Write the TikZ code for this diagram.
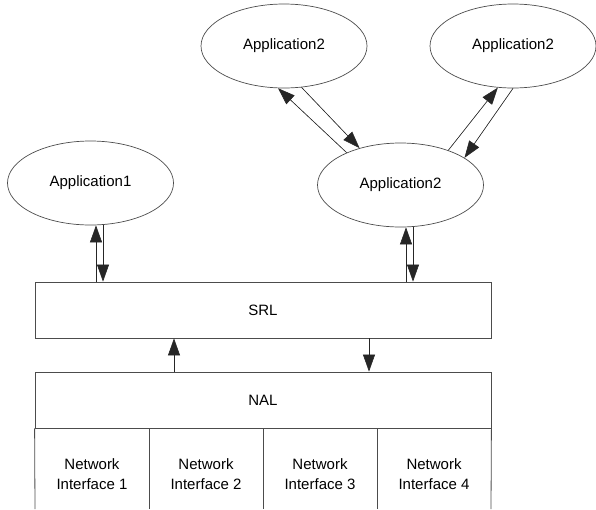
\documentclass[tikz,border=0pt]{standalone}
\usepackage{fontspec}
\setmainfont{Liberation Sans}
\usetikzlibrary{shapes.geometric,arrows.meta}
\begin{document}
\begin{tikzpicture}[x=1pt,y=-1pt,
  lbl/.style={font=\fontsize{15}{20}\selectfont},
  app/.style={ellipse,draw=black!70,line width=0.7pt,minimum width=166pt,minimum height=84pt,inner sep=0pt,lbl},
  layer/.style={rectangle,draw=black!70,line width=0.8pt,minimum width=456pt,minimum height=56pt,inner sep=0pt,lbl},
  iface/.style={align=center,inner sep=0pt,lbl},
  sep/.style={draw=black!70,line width=0.8pt},
  arr/.style={-{Triangle[length=17pt,width=12pt]},line width=0.6pt,draw=black!85,fill=black},
  ]
\useasboundingbox (0,0) rectangle (596,509);
% applications
\node[app] (app1) at (90.5,183) {Application1};
\node[app] (tl) at (284,46) {Application2};
\node[app] (tr) at (513,46) {Application2};
\node[app] (mid) at (400.5,185) {Application2};
% layers
\node[layer] (srl) at (263,310) {SRL};
\node[layer] (nal) at (263,400) {NAL};
% interfaces
\node[iface] (ni1) at (92,474) {Network\\Interface 1};
\node[iface] (ni2) at (206,474) {Network\\Interface 2};
\node[iface] (ni3) at (320,474) {Network\\Interface 3};
\node[iface] (ni4) at (434,474) {Network\\Interface 4};
\coordinate (b1) at (35,509);
\coordinate (b2) at (149,509);
\coordinate (b3) at (263,509);
\coordinate (b4) at (377,509);
\coordinate (b5) at (491,509);
\draw[sep] (nal.south west) -- (b1);
\draw[sep] (nal.south -| b2) -- (b2);
\draw[sep] (nal.south -| b3) -- (b3);
\draw[sep] (nal.south -| b4) -- (b4);
\draw[sep] (nal.south east) -- (b5);
% app1 <-> srl
\draw[arr] (srl.north -| 96,0) -- (app1.south -| 96,0);
\draw[arr] (app1.south -| 103,0) -- (srl.north -| 103,0);
% mid <-> srl
\draw[arr] (srl.north -| 406,0) -- (mid.south -| 406,0);
\draw[arr] (mid.south -| 413,0) -- (srl.north -| 413,0);
% srl <-> nal
\draw[arr] (nal.north -| 174,0) -- (srl.south -| 174,0);
\draw[arr] (srl.south -| 369,0) -- (nal.north -| 369,0);
% mid <-> top ellipses
\draw[arr] (mid.149) -- (tl.-98);
\draw[arr] (tl.-67.5) -- (mid.138.4);
\draw[arr] (mid.36.6) -- (tr.-110);
\draw[arr] (tr.-90) -- (mid.23.1);
\end{tikzpicture}
\end{document}
